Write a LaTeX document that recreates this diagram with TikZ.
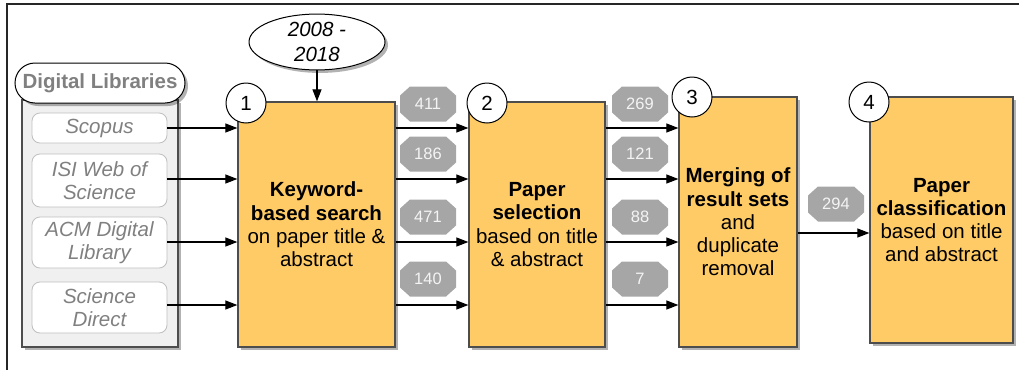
\documentclass[tikz,border=0pt]{standalone}
\usepackage{fontspec}
\setmainfont{Liberation Sans}
\usetikzlibrary{arrows.meta,shapes.geometric,shadows,calc}
\definecolor{boxfill}{HTML}{FECB66}
\definecolor{boxline}{HTML}{4D4D4D}
\definecolor{libfill}{HTML}{F0F0F0}
\definecolor{txtgray}{HTML}{808080}
\definecolor{itemline}{HTML}{BFBFBF}
\definecolor{octfill}{HTML}{A6A6A6}
\definecolor{octtext}{HTML}{F4F4F4}
\newcommand\mainsize{\fontsize{20.5}{23.3}\selectfont}
\begin{document}
\begin{tikzpicture}[x=1pt,y=-1pt,
  shade/.style={drop shadow={shadow xshift=3pt,shadow yshift=-3pt,opacity=0.3,fill=black}},
  stepbox/.style={draw=boxline,line width=1.3pt,fill=boxfill,shade,align=center,inner sep=2pt,font=\mainsize},
  numcirc/.style={circle,draw=black,line width=1pt,fill=white,minimum size=40pt,inner sep=0pt,font=\mainsize},
  libitem/.style={draw=itemline,line width=0.8pt,fill=white,rounded corners=8pt,minimum width=135pt,align=center,inner sep=0pt,font=\mainsize\itshape,text=txtgray},
  oct/.style={rectangle,minimum width=56pt,minimum height=35pt,inner sep=0pt,text=octtext,font=\fontsize{16.5}{19}\selectfont,
    path picture={\fill[octfill]
      ([xshift=10pt]path picture bounding box.north west) --
      ([xshift=-10pt]path picture bounding box.north east) --
      ([yshift=-9pt]path picture bounding box.north east) --
      ([yshift=9pt]path picture bounding box.south east) --
      ([xshift=-10pt]path picture bounding box.south east) --
      ([xshift=10pt]path picture bounding box.south west) --
      ([yshift=9pt]path picture bounding box.south west) --
      ([yshift=-9pt]path picture bounding box.north west) -- cycle;}},
  arr/.style={-{Triangle[length=12pt,width=9pt]},line width=1.2pt}
]
\useasboundingbox (0,0) rectangle (1019,370);
\draw[line width=1.3pt,black!85] (1019,4) -- (7,4) -- (7,370);

% Digital libraries container
\node[draw=boxline,line width=1.3pt,fill=libfill,shade,minimum width=156pt,minimum height=247pt] (libs) at (100,223.5) {};
\node[draw=black,line width=1pt,fill=white,shade,rounded corners=20pt,minimum width=170pt,minimum height=40pt,inner sep=0pt,font=\mainsize\bfseries,text=txtgray] (libhead) at (100,83) {Digital Libraries};
\node[libitem,minimum height=30pt] (scopus) at (99.5,128) {Scopus};
\node[libitem,minimum height=53pt] (isi) at (99.5,180.5) {ISI Web of\\Science};
\node[libitem,minimum height=51pt] (acm) at (99.5,242.5) {ACM Digital\\Library};
\node[libitem,minimum height=51pt] (sd) at (99.5,307.5) {Science\\Direct};

% Step boxes
\node[stepbox,minimum width=157pt,minimum height=245pt] (b1) at (316.5,224.5) {\textbf{Keyword-}\\\textbf{based search}\\on paper title \&\\abstract};
\node[stepbox,minimum width=136pt,minimum height=245pt] (b2) at (537,224.5) {\textbf{Paper}\\\textbf{selection}\\based on title\\\& abstract};
\node[stepbox,minimum width=118pt,minimum height=250pt] (b3) at (738,222) {\textbf{Merging of}\\\textbf{result sets}\\and\\duplicate\\removal};
\node[stepbox,minimum width=143pt,minimum height=246pt] (b4) at (941.5,220) {\textbf{Paper}\\\textbf{classification}\\based on title\\and abstract};

% Number circles
\node[numcirc] (c1) at (246,103) {1};
\node[numcirc] (c2) at (487,103) {2};
\node[numcirc] (c3) at (692,97) {3};
\node[numcirc] (c4) at (869,102) {4};

% Time span ellipse
\node[ellipse,draw=black,line width=1pt,fill=white,shade,minimum width=136pt,minimum height=43pt,inner sep=0pt,align=center,font=\fontsize{20.5}{25}\selectfont\itshape] (years) at (317,42) {2008 -\\2018};
\draw[arr] (years.south) -- (years.south |- b1.north);

% Row coordinates
\coordinate (r1) at (0,128);
\coordinate (r2) at (0,179);
\coordinate (r3) at (0,242);
\coordinate (r4) at (0,305);
\coordinate (r5) at (0,233);

% Library arrows
\draw[arr] (scopus.east |- r1) -- (b1.west |- r1);
\draw[arr] (isi.east |- r2) -- (b1.west |- r2);
\draw[arr] (acm.east |- r3) -- (b1.west |- r3);
\draw[arr] (sd.east |- r4) -- (b1.west |- r4);

% Box 1 -> Box 2
\foreach \r in {r1,r2,r3,r4}{\draw[arr] (b1.east |- \r) -- (b2.west |- \r);}
\node[oct] (n411) at (428,104) {411};
\node[oct] (n186) at (428,154) {186};
\node[oct] (n471) at (428,217) {471};
\node[oct] (n140) at (428,279) {140};

% Box 2 -> Box 3
\foreach \r in {r1,r2,r3,r4}{\draw[arr] (b2.east |- \r) -- (b3.west |- \r);}
\node[oct] (n269) at (640,104) {269};
\node[oct] (n121) at (640,154) {121};
\node[oct] (n88) at (640,217) {88};
\node[oct] (n7) at (640,279) {7};

% Box 3 -> Box 4
\draw[arr] (b3.east |- r5) -- (b4.west |- r5);
\node[oct] (n294) at (836,204) {294};
\end{tikzpicture}
\end{document}
